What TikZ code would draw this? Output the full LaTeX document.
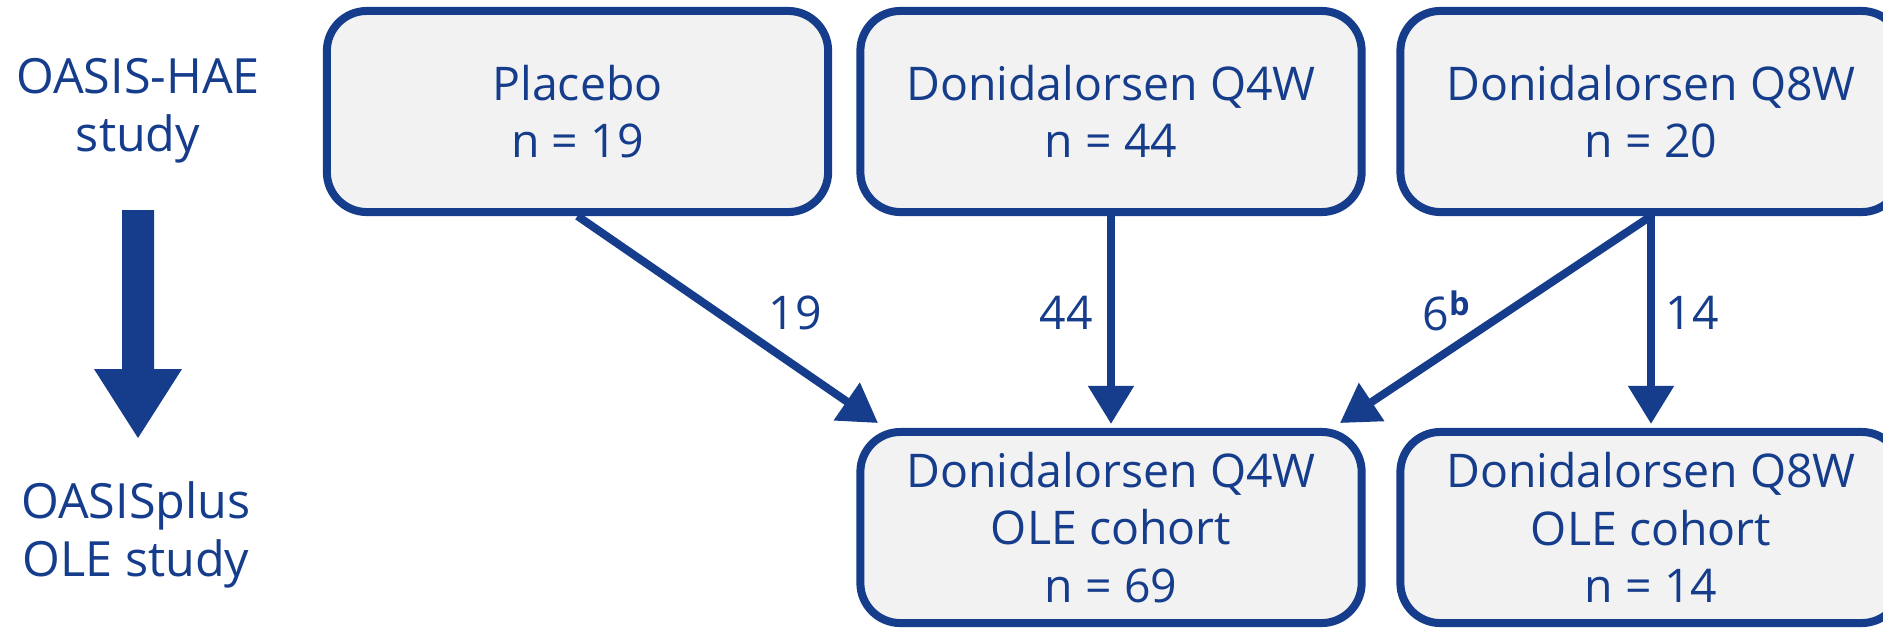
\documentclass[tikz,border=0pt]{standalone}
\usepackage{fontspec}
\setmainfont{Open Sans}
\usetikzlibrary{arrows.meta}
\definecolor{navy}{RGB}{21,61,140}
\definecolor{boxfill}{RGB}{242,242,242}
\begin{document}
\begin{tikzpicture}[x=0.01cm,y=-0.01cm,
  font=\fontsize{13.2}{16.4}\selectfont,
  stage/.style={draw=navy, fill=boxfill, line width=0.08cm, rounded corners=0.4cm,
    minimum width=5.01cm, align=center, text=navy, inner sep=0pt},
  toprow/.style={stage, minimum height=2.01cm},
  botrow/.style={stage, minimum height=1.91cm},
  flow/.style={draw=navy, line width=0.08cm, -{Triangle[width=0.44cm,length=0.38cm]}, shorten >=0.04cm},
  lbl/.style={text=navy, inner sep=0pt, align=center},
  side/.style={lbl, font=\fontsize{13.8}{16.4}\selectfont},
]
\clip (0,0) rectangle (1883,630);
\fill[white] (0,0) rectangle (1883,630);

% side labels and big arrow
\node[side] (hae) at (138,111) {OASIS-HAE\\study};
\node[side] (ole) at (136,535) {OASISplus\\OLE study};
\fill[navy] (122,210) -- (154,210) -- (154,369) -- (182,369) -- (138,438) -- (94,369) -- (122,369) -- cycle;

% boxes
\node[toprow] (pbo) at (577.5,111.5) {Placebo\\n = 19};
\node[toprow] (q4) at (1111,111.5) {Donidalorsen Q4W\\n = 44};
\node[toprow] (q8) at (1651,111.5) {Donidalorsen Q8W\\n = 20};
\node[botrow] (ole4) at (1111,527.5) {Donidalorsen Q4W\\OLE cohort\\n = 69};
\node[botrow] (ole8) at (1651,527.5) {Donidalorsen Q8W\\OLE cohort\\n = 14};

% arrow ends
\coordinate (t1) at (878,423);
\coordinate (t3) at (1340,423);

\draw[flow, shorten >=0pt] (pbo.south) -- (t1);
\draw[flow] (q4.south) -- (ole4.north);
\draw[flow, shorten >=0pt] (q8.south) -- (t3);
\draw[flow] (q8.south) -- (ole8.north);

% counts
\node[lbl] (n19) at (795,313) {19};
\node[lbl] (n44) at (1066,313) {44};
\node[lbl] (n6) at (1447,311) {6\textsuperscript{\textbf{b}}};
\node[lbl] (n14) at (1692,313) {14};
\end{tikzpicture}
\end{document}
